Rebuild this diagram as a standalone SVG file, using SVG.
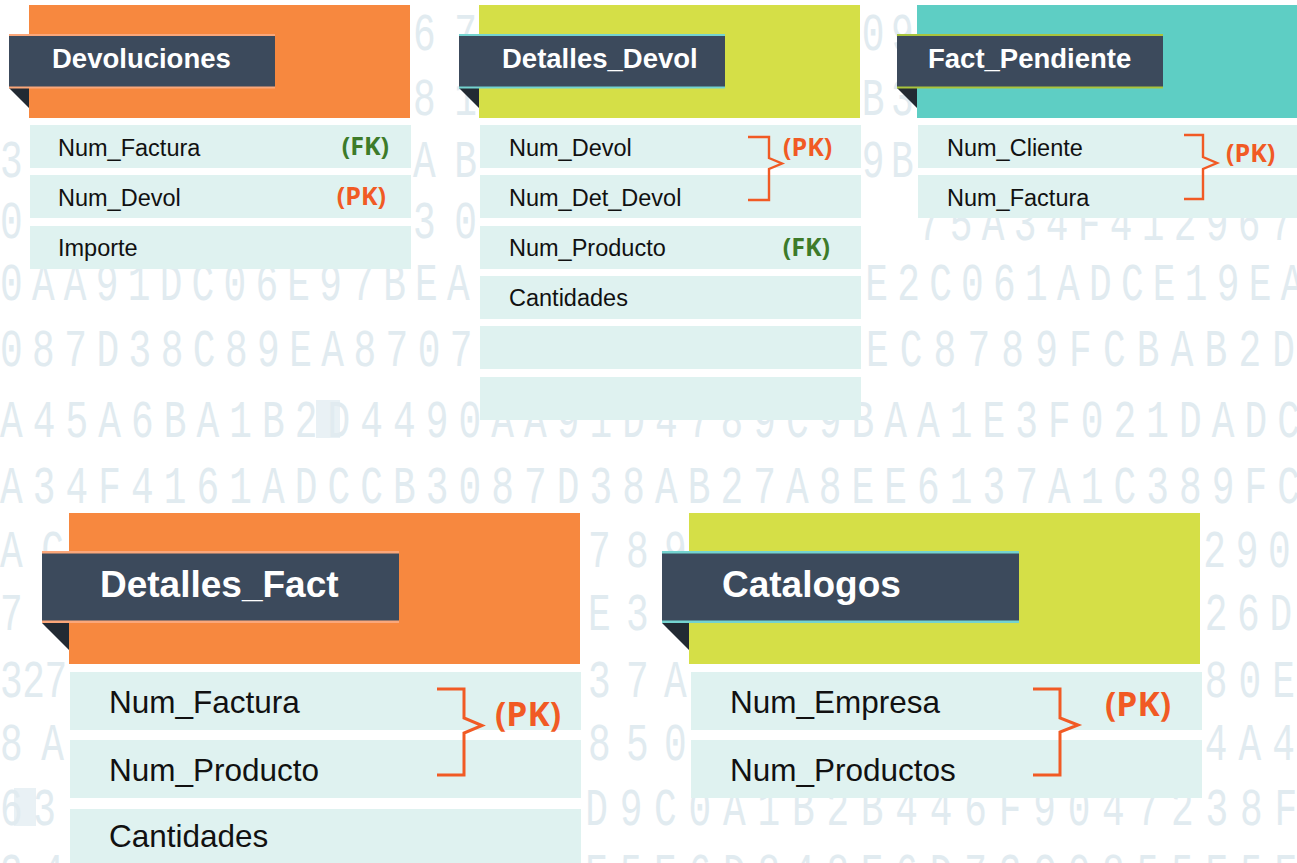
<svg xmlns="http://www.w3.org/2000/svg" width="1297" height="863" viewBox="0 0 1297 863">
<style>
.hex{font-family:"Liberation Mono","DejaVu Sans Mono",monospace;font-size:54px;fill:#e1ebf0}
.lbl{fill:#3c4a5c}
.fold{fill:#222a33}
.row{fill:#dff2f0}
.orange{fill:#f7883f}
.lime{fill:#d5df47}
.teal{fill:#5ecec4}
.edge-o{fill:#fba77a}
.edge-t{fill:#74d3cf}
.edge-l{fill:#a9c43c}
.title{font-family:"Liberation Sans",Arial,sans-serif;font-weight:bold;fill:#ffffff}
.t1{font-size:27.5px}
.t2{font-size:37px}
.fld{font-family:"Liberation Sans",Arial,sans-serif;fill:#111111}
.f1{font-size:23.5px}
.f2{font-size:31.5px}
.pk{font-family:"Open Sans","DejaVu Sans",sans-serif;font-weight:bold;fill:#f15a24}
.fk{font-family:"Open Sans","DejaVu Sans",sans-serif;font-weight:bold;fill:#3d7b2a}
.k1{font-size:25px}
.k2{font-size:33.5px}
.brace{fill:none;stroke:#f15a24;stroke-width:2.4}
.brace2{fill:none;stroke:#f15a24;stroke-width:3}
</style>
<rect width="1297" height="863" fill="#ffffff"/>
<g id="background">
<rect x="316" y="400" width="24" height="38" fill="#e9f1f5"/>
<rect x="14" y="788" width="22" height="38" fill="#e9f1f5"/>
<g transform="scale(0.7 1)">
<text class="hex" x="590" y="50" textLength="91.4" lengthAdjust="spacing">67</text>
<text class="hex" x="1231" y="50" textLength="74.3" lengthAdjust="spacing">09</text>
<text class="hex" x="590" y="115" textLength="91.4" lengthAdjust="spacing">81</text>
<text class="hex" x="1231" y="115" textLength="74.3" lengthAdjust="spacing">B3</text>
<text class="hex" x="0" y="177">3</text>
<text class="hex" x="590" y="177" textLength="91.4" lengthAdjust="spacing">AB</text>
<text class="hex" x="1231" y="177" textLength="74.3" lengthAdjust="spacing">9B</text>
<text class="hex" x="0" y="238">0</text>
<text class="hex" x="590" y="238" textLength="91.4" lengthAdjust="spacing">30</text>
<text class="hex" x="1311" y="240" textLength="581" lengthAdjust="spacing">75A34F4129672</text>
<text class="hex" x="0" y="300" textLength="671" lengthAdjust="spacing">0AA91DC06E97BEA</text>
<text class="hex" x="1236" y="300" textLength="626" lengthAdjust="spacing">E2C061ADCE19EA</text>
<text class="hex" x="0" y="366" textLength="675" lengthAdjust="spacing">087D38C89EA8707</text>
<text class="hex" x="1237" y="366" textLength="613" lengthAdjust="spacing">EC8789FCBAB2D</text>
<text class="hex" x="0" y="437" textLength="1857" lengthAdjust="spacing">A45A6BA1B2D4490AA91D4789C9BAA1E3F021DADC</text>
<text class="hex" x="0" y="503" textLength="1857" lengthAdjust="spacing">A34F4161ADCCB3087D38AB27A8EE6137A1C389FC</text>
<text class="hex" x="0" y="567" textLength="91.4" lengthAdjust="spacing">AC</text>
<text class="hex" x="840" y="567" textLength="141" lengthAdjust="spacing">789</text>
<text class="hex" x="1719" y="567" textLength="171" lengthAdjust="spacing">290A</text>
<text class="hex" x="0" y="630" textLength="91.4" lengthAdjust="spacing">78</text>
<text class="hex" x="840" y="630" textLength="141" lengthAdjust="spacing">E3F</text>
<text class="hex" x="1721" y="630" textLength="171" lengthAdjust="spacing">26D9</text>
<text class="hex" x="0" y="697" textLength="96" lengthAdjust="spacing">327</text>
<text class="hex" x="840" y="697" textLength="141" lengthAdjust="spacing">37A</text>
<text class="hex" x="1721" y="697" textLength="129" lengthAdjust="spacing">80E</text>
<text class="hex" x="0" y="760" textLength="91.4" lengthAdjust="spacing">8A</text>
<text class="hex" x="840" y="760" textLength="141" lengthAdjust="spacing">850</text>
<text class="hex" x="1721" y="760" textLength="129" lengthAdjust="spacing">4A4</text>
<text class="hex" x="0" y="825" textLength="80" lengthAdjust="spacing">63</text>
<text class="hex" x="836" y="825" textLength="1017" lengthAdjust="spacing">D9C0A1B2B446F9047238F</text>
<text class="hex" x="0" y="890" textLength="91.4" lengthAdjust="spacing">34</text>
<text class="hex" x="836" y="890" textLength="1017" lengthAdjust="spacing">E5E6D848E6D73C0855E5E</text>
</g>
</g>
<g id="connectors"></g>
<g id="devoluciones">
<rect class="orange" x="29" y="5" width="381" height="113"/>
<polygon class="fold" points="9,88 29,88 29,108"/>
<rect class="lbl" x="9" y="34" width="266" height="54"/>
<rect class="edge-o" x="9" y="34" width="266" height="2"/>
<rect class="edge-o" x="9" y="86.5" width="266" height="2"/>
<text class="title t1" x="52" y="68">Devoluciones</text>
<rect class="row" x="30" y="125" width="381" height="43"/>
<rect class="row" x="30" y="175" width="381" height="43"/>
<rect class="row" x="30" y="226" width="381" height="43"/>
<text class="fld f1" x="58" y="155.5">Num_Factura</text>
<text class="fld f1" x="58" y="205.5">Num_Devol</text>
<text class="fld f1" x="58" y="255.5">Importe</text>
<text class="fk k1" x="389" y="155" text-anchor="end">(FK)</text>
<text class="pk k1" x="386" y="205" text-anchor="end">(PK)</text>
</g>
<g id="detalles_devol">
<rect class="lime" x="479" y="5" width="381" height="113"/>
<polygon class="fold" points="459,88 479,88 479,108"/>
<rect class="lbl" x="459" y="34" width="266" height="54"/>
<rect class="edge-t" x="459" y="34" width="266" height="2"/>
<rect class="edge-t" x="459" y="86.5" width="266" height="2"/>
<text class="title t1" x="502" y="68">Detalles_Devol</text>
<rect class="row" x="480" y="125" width="381" height="43"/>
<rect class="row" x="480" y="175" width="381" height="43"/>
<rect class="row" x="480" y="226" width="381" height="43"/>
<rect class="row" x="480" y="276" width="381" height="43"/>
<rect class="row" x="480" y="326" width="381" height="43"/>
<rect class="row" x="480" y="377" width="381" height="43"/>
<text class="fld f1" x="509" y="155.5">Num_Devol</text>
<text class="fld f1" x="509" y="205.5">Num_Det_Devol</text>
<text class="fld f1" x="509" y="255.5">Num_Producto</text>
<text class="fld f1" x="509" y="305.5">Cantidades</text>
<path class="brace" d="M748,137 H769 V158 L782,163.5 L769,169 V200 H748"/>
<text class="pk k1" x="783" y="156">(PK)</text>
<text class="fk k1" x="830" y="256" text-anchor="end">(FK)</text>
</g>
<g id="fact_pendiente">
<rect class="teal" x="917" y="5" width="380" height="113"/>
<polygon class="fold" points="897,88 917,88 917,108"/>
<rect class="lbl" x="897" y="34" width="266" height="54"/>
<rect class="edge-l" x="897" y="34" width="266" height="2"/>
<rect class="edge-l" x="897" y="86.5" width="266" height="2"/>
<text class="title t1" x="928" y="68">Fact_Pendiente</text>
<rect class="row" x="918" y="125" width="379" height="43"/>
<rect class="row" x="918" y="175" width="379" height="43"/>
<text class="fld f1" x="947" y="155.5">Num_Cliente</text>
<text class="fld f1" x="947" y="205.5">Num_Factura</text>
<path class="brace" d="M1184,135 H1203 V157 L1217,163 L1203,169 V199 H1184"/>
<text class="pk k1" x="1226" y="162">(PK)</text>
</g>
<g id="detalles_fact">
<rect class="orange" x="69" y="513" width="511" height="151"/>
<polygon class="fold" points="42,623 69,623 69,650"/>
<rect class="lbl" x="42" y="551" width="357" height="72"/>
<rect class="edge-o" x="42" y="551" width="357" height="2.5"/>
<rect class="edge-o" x="42" y="620.5" width="357" height="2.5"/>
<text class="title t2" x="100" y="597">Detalles_Fact</text>
<rect class="row" x="70" y="672" width="511" height="58"/>
<rect class="row" x="70" y="740" width="511" height="58"/>
<rect class="row" x="70" y="809" width="511" height="60"/>
<text class="fld f2" x="109" y="713">Num_Factura</text>
<text class="fld f2" x="109" y="781">Num_Producto</text>
<text class="fld f2" x="109" y="847">Cantidades</text>
<path class="brace2" d="M437,689 H464 V718 L482,725.5 L464,733 V775 H437"/>
<text class="pk k2" x="495" y="726">(PK)</text>
</g>
<g id="catalogos">
<rect class="lime" x="689" y="513" width="511" height="151"/>
<polygon class="fold" points="662,623 689,623 689,650"/>
<rect class="lbl" x="662" y="551" width="357" height="72"/>
<rect class="edge-t" x="662" y="551" width="357" height="2.5"/>
<rect class="edge-t" x="662" y="620.5" width="357" height="2.5"/>
<text class="title t2" x="722" y="597">Catalogos</text>
<rect class="row" x="691" y="672" width="511" height="58"/>
<rect class="row" x="691" y="740" width="511" height="58"/>
<text class="fld f2" x="730" y="713">Num_Empresa</text>
<text class="fld f2" x="730" y="781">Num_Productos</text>
<path class="brace2" d="M1033,689 H1060 V718 L1078,725 L1060,732 V775 H1033"/>
<text class="pk k2" x="1171" y="716" text-anchor="end">(PK)</text>
</g>
</svg>
